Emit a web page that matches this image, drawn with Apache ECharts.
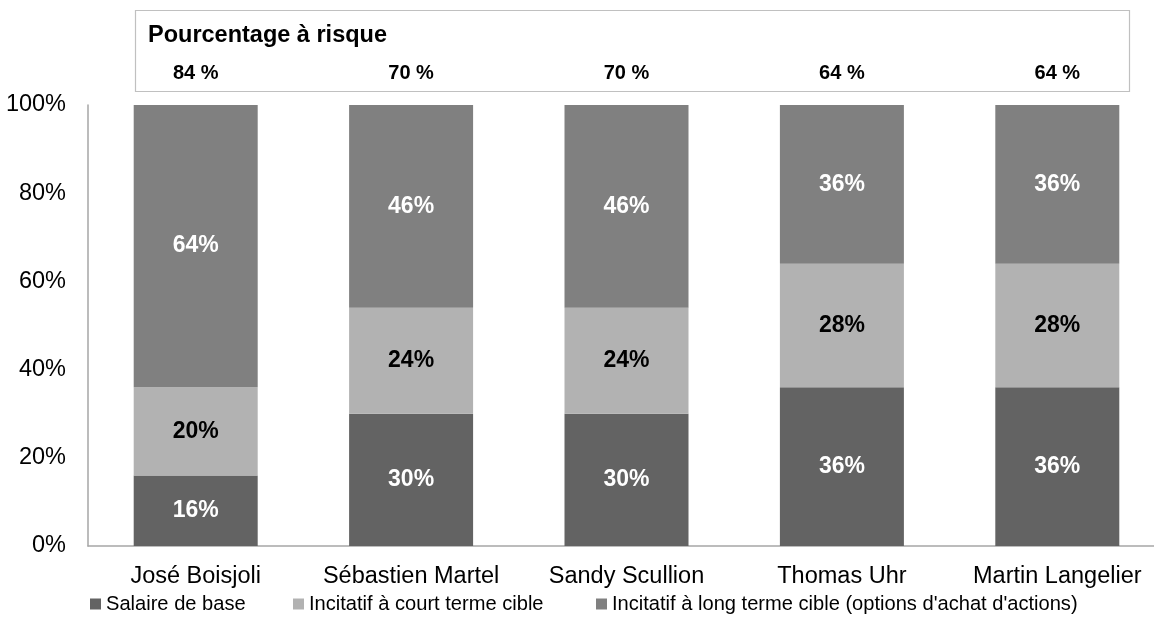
<!DOCTYPE html>
<html>
<head>
<meta charset="utf-8">
<script src="https://cdn.jsdelivr.net/npm/echarts@6/dist/echarts.min.js"></script>
<style>html,body{margin:0;padding:0;background:#fff;}#c{width:1154px;height:635px;}</style>
</head>
<body>
<div id="c"></div>
<script>
const categories = ['José Boisjoli', 'Sébastien Martel', 'Sandy Scullion', 'Thomas Uhr', 'Martin Langelier'];
const salaireBase = [16, 30, 30, 36, 36];
const incitatifCourt = [20, 24, 24, 28, 28];
const incitatifLong = [64, 46, 46, 36, 36];
const pourcentageRisque = ['84 %', '70 %', '70 %', '64 %', '64 %'];
const seriesNames = ['Salaire de base', 'Incitatif à court terme cible', "Incitatif à long terme cible (options d'achat d'actions)"];
const yTicks = [0, 20, 40, 60, 80, 100];

const FONT = '"Liberation Sans", Arial, sans-serif';
const chart = echarts.init(document.getElementById('c'));
const colors = ['#636363', '#b2b2b2', '#808080'];
const labelColors = ['#ffffff', '#000000', '#ffffff'];
const dataSets = [salaireBase, incitatifCourt, incitatifLong];
const legendLefts = [85, 288, 591];

chart.setOption({
  animation: false,
  textStyle: { fontFamily: FONT },
  title: {
    text: 'Pourcentage à risque',
    left: 143, top: 19,
    textStyle: { fontFamily: FONT, fontSize: 23.5, fontWeight: 'bold', color: '#000' }
  },
  graphic: [{
    type: 'rect', z: -1,
    shape: { x: 135.5, y: 10.5, width: 994, height: 81 },
    style: { fill: 'none', stroke: '#c0c0c0', lineWidth: 1.2 }
  }],
  legend: seriesNames.map((n, i) => ({
    left: legendLefts[i], top: 589,
    itemWidth: 11, itemHeight: 11,
    icon: 'rect',
    textStyle: { fontFamily: FONT, fontSize: 20.1, color: '#000' },
    data: [n]
  })),
  grid: { left: 88, top: 105, width: 1077, bottom: 89, containLabel: false, outerBoundsMode: 'none' },
  xAxis: [{
    type: 'category', data: categories, position: 'bottom',
    axisLine: { lineStyle: { color: '#a6a6a6', width: 1.5 } },
    axisTick: { show: false },
    axisLabel: { color: '#000', fontSize: 23.5, fontFamily: FONT, margin: 19, interval: 0 }
  }, {
    type: 'category', data: pourcentageRisque, position: 'top',
    axisLine: { show: false }, axisTick: { show: false },
    axisLabel: { color: '#000', fontSize: 20, fontWeight: 'bold', fontFamily: FONT, margin: 22, interval: 0 }
  }],
  yAxis: {
    type: 'value', min: 0, max: 100, interval: 20,
    axisLine: { show: true, lineStyle: { color: '#a6a6a6', width: 1.5 } },
    axisTick: { show: false },
    splitLine: { show: false },
    axisLabel: { color: '#000', fontSize: 23.5, fontFamily: FONT, margin: 22, formatter: v => yTicks.includes(v) ? v + '%' : '' }
  },
  series: seriesNames.map((name, i) => ({
    name, type: 'bar', stack: 'total', xAxisIndex: 0,
    data: dataSets[i], barWidth: 124,
    itemStyle: { color: colors[i] },
    label: {
      show: true, position: 'inside', formatter: p => p.value + '%',
      color: labelColors[i], fontSize: 23, fontWeight: 'bold', fontFamily: FONT
    }
  }))
});
</script>
</body>
</html>
